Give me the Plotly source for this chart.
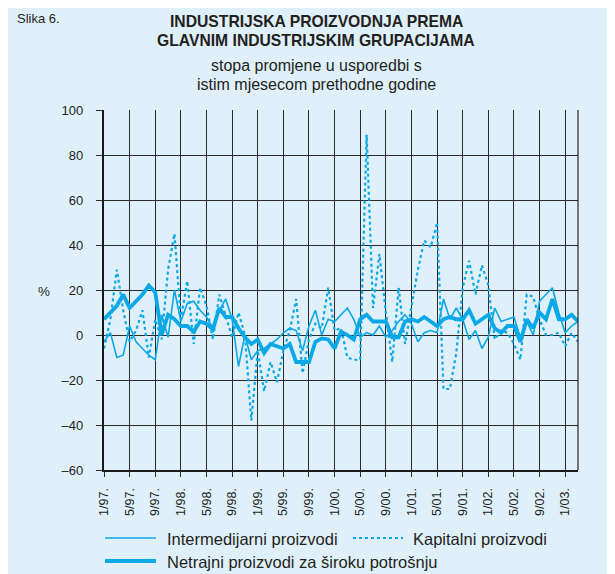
import plotly.graph_objects as go

# ---- data (month index 0 = 1/97 ... 74 = 3/03) ----
tick_labels = ["1/97.", "5/97.", "9/97.", "1/98.", "5/98.", "9/98.", "1/99.", "5/99.", "9/99.",
               "1/00.", "5/00.", "9/00.", "1/01.", "5/01.", "9/01.", "1/02.", "5/02.", "9/02.", "1/03."]
tick_months = [0, 4, 8, 12, 16, 20, 24, 28, 32, 36, 40, 44, 48, 52, 56, 60, 64, 68, 72]

intermedijarni = [-3, 1, -10, -9, 4, -3, -6, -9, -11, 9, -1, 20, 6, 14, 15, 11, 8, 3, 11, 16,
                  7, -14, 0, -11, -7, -6, -4, -2, 1, 3, 2, -7, 4, 11, 0, 7, 6, 9, 12, 7,
                  -1, 1, 0, 4, -1, 2, 6, 9, 5, -3, 1, 2, 1, 16, 7, 12, 7, -2, 2, -6,
                  -1, 12, 6, 7, 8, -1, 6, 0, 15, 18, 21, 10, 1, 4, 6]

kapitalni = [-6, 7, 29, 11, -3, 2, 11, -10, 7, -2, 29, 45, 7, 24, -4, 21, 13, -2, 18, 8,
             -1, 10, 0, -38, -7, -25, -12, -21, -7, 2, 16, -17, -2, 5, 3, 21, 2, 3, -10, -11,
             -11, 89, 12, 36, 10, -12, 21, -4, 13, 29, 42, 39, 50, -24, -24, -8, 21, 33, 18, 31,
             22, -2, 2, 1, -4, -11, 18, 17, 7, 0, 0, 1, -5, 1, -3]

netrajni = [7, 10, 13, 18, 12, 15, 18, 22, 19, 0, 9, 7, 4, 4, 1.5, 6, 5, 2.5, 12, 8,
            8, 3, -1, -4, -2, -8, -4, -5, -6, -4, -12, -12, -12, -3, -1.5, -2, -6, 1.5, 0, -2,
            7, 9, 6, 6, 6, -1, -1, 6, 7, 6, 8, 6, 4, 7, 8, 7, 7, 11, 5, 7,
            9, 3, 1, 4, 4, -3, 7, 3, 10, 7, 16, 7, 7, 9, 6]

y_ticks = [-60, -40, -20, 0, 20, 40, 60, 80, 100]
y_tick_text = ["\u201360", "\u201340", "\u201320", "0", "20", "40", "60", "80", "100"]

months = list(range(len(netrajni)))

# ---- styling ----
OFF = 8                      # page body margin in the browser
W, H = 615 - OFF, 574 - OFF
PL, PR, PT, PB = 104, 578, 110, 470   # plot area in screen pixels
L, R, T, B = PL - OFF, W - (PR - OFF), PT - OFF, H - (PB - OFF)
PW, PH = W - L - R, H - T - B
BLUE_BG = "#E0F0FA"
LINE = "#0AA8E6"
TXT = "#231F20"
FONT = "Liberation Sans, Arial, sans-serif"


def px(sx):
    return (sx - OFF - L) / PW


def py(sy):
    return (H - B - (sy - OFF)) / PH


fig = go.Figure()
fig.add_trace(go.Scatter(x=months, y=intermedijarni, mode="lines",
                         line=dict(color=LINE, width=1.6), name="Intermedijarni proizvodi"))
fig.add_trace(go.Scatter(x=months, y=kapitalni, mode="lines",
                         line=dict(color=LINE, width=2.2, dash="dot"), name="Kapitalni proizvodi"))
fig.add_trace(go.Scatter(x=months, y=netrajni, mode="lines",
                         line=dict(color=LINE, width=3.8), name="Netrajni proizvodi za široku potrošnju"))

shapes = [
    dict(type="line", xref="paper", yref="paper", x0=1, x1=1, y0=0, y1=1,
         line=dict(color="#222", width=1.2)),
    # legend samples
    dict(type="line", xref="paper", yref="paper", x0=px(105), x1=px(156), y0=py(538), y1=py(538),
         line=dict(color=LINE, width=1.6)),
    dict(type="line", xref="paper", yref="paper", x0=px(353), x1=px(403), y0=py(538), y1=py(538),
         line=dict(color=LINE, width=2.2, dash="dot")),
    dict(type="line", xref="paper", yref="paper", x0=px(105), x1=px(156), y0=py(561), y1=py(561),
         line=dict(color=LINE, width=3.8)),
]


def ann(text, sx, sy, size, anchor="center", yanchor="middle"):
    return dict(text=text, x=px(sx), y=py(sy), xref="paper", yref="paper", xanchor=anchor,
                yanchor=yanchor, showarrow=False, font=dict(size=size, color=TXT, family=FONT))


annotations = [
    ann("Slika 6.", 15, 9, 13, anchor="left", yanchor="top"),
    ann("<b>INDUSTRIJSKA PROIZVODNJA PREMA</b>", 316, 21.5, 15.7),
    ann("<b>GLAVNIM INDUSTRIJSKIM GRUPACIJAMA</b>", 316, 40, 15.7),
    ann("stopa promjene u usporedbi s", 316, 65.5, 16),
    ann("istim mjesecom prethodne godine", 316, 84, 16),
    ann("%", 44, 291, 13.5),
    ann("Intermedijarni proizvodi", 165, 539, 16.5, anchor="left"),
    ann("Kapitalni proizvodi", 411, 539, 16.5, anchor="left"),
    ann("Netrajni proizvodi za široku potrošnju", 165, 561.5, 16.5, anchor="left"),
]

fig.update_layout(
    width=W, height=H,
    margin=dict(l=L, r=R, t=T, b=B, pad=0),
    paper_bgcolor=BLUE_BG,
    plot_bgcolor=BLUE_BG,
    showlegend=False,
    font=dict(family=FONT, color=TXT, size=13),
    shapes=shapes,
    annotations=annotations,
    xaxis=dict(range=[0, 74], tickmode="array", tickvals=tick_months, ticktext=tick_labels,
               tickangle=-90, showgrid=True, gridcolor="#2b2b2b", gridwidth=1,
               showline=True, linecolor="#1a1a1a", linewidth=2.2, zeroline=False,
               ticks="outside", ticklen=5, tickcolor="#2b2b2b", tickwidth=1,
               tickfont=dict(size=12.5, color=TXT, family=FONT), ticklabelstandoff=6, fixedrange=True),
    yaxis=dict(range=[-60, 100], tickmode="array", tickvals=y_ticks, ticktext=y_tick_text,
               showgrid=True, gridcolor="#2b2b2b", gridwidth=1,
               showline=True, linecolor="#1a1a1a", linewidth=2.2, zeroline=False,
               ticks="outside", ticklen=6, tickcolor="#2b2b2b", tickwidth=1,
               tickfont=dict(size=13, color=TXT, family=FONT), ticklabelstandoff=10, fixedrange=True),
)

fig.write_html("out.html", config=dict(displayModeBar=False))
